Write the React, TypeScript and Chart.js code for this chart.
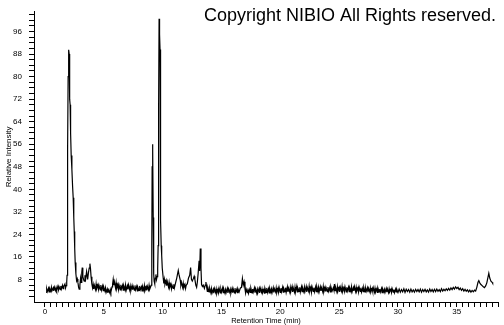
import React, { useEffect, useRef } from "react";
import { Chart, registerables } from "chart.js";

Chart.register(...registerables);

// Retention time (min), relative intensity (%)
const segmentEarly: [number, number][] = [
  [0.1, 3.4], [0.15, 4.6], [0.2, 3.7], [0.3, 4.9], [0.35, 3.6], [0.4, 4.8], [0.5, 3.8], [0.55, 5.2], [0.6, 4.0], [0.7, 5.0],
  [0.75, 3.9], [0.8, 5.3], [0.9, 4.1], [0.95, 5.1], [1.0, 4.2], [1.1, 5.6], [1.15, 4.3], [1.2, 5.4], [1.3, 4.4], [1.35, 5.7],
  [1.4, 4.6], [1.5, 5.9], [1.55, 4.7], [1.6, 5.5], [1.7, 6.4], [1.75, 5.0], [1.8, 5.8],
  [1.85, 7.0], [1.88, 9.5], [1.91, 22], [1.94, 54], [1.97, 80], [2.0, 86], [2.03, 89.5], [2.06, 88], [2.09, 84],
  [2.11, 72], [2.14, 70], [2.18, 60], [2.23, 52], [2.29, 47], [2.35, 41], [2.4, 37], [2.45, 30], [2.49, 25],
  [2.53, 19], [2.57, 14], [2.63, 10], [2.69, 7.5], [2.75, 8.2], [2.8, 7.0], [2.86, 5.2], [2.91, 4.6], [2.97, 6.0],
  [3.03, 8.5], [3.08, 7.0], [3.13, 10.5], [3.17, 12.2], [3.22, 9.0], [3.28, 8.0], [3.34, 7.4], [3.4, 9.5],
  [3.46, 8.2], [3.54, 10.8], [3.6, 9.0], [3.63, 8.0], [3.7, 10.5], [3.76, 12.0], [3.82, 13.6], [3.87, 11.9],
  [3.92, 9.0], [3.99, 6.3],
];

const segmentBaseline4to9: [number, number][] = [
  [4.05, 5.0], [4.1, 6.2], [4.15, 4.6], [4.2, 5.9], [4.3, 4.4], [4.35, 6.4], [4.4, 4.7], [4.5, 6.1], [4.55, 4.5], [4.6, 5.8],
  [4.7, 4.3], [4.75, 6.0], [4.8, 4.2], [4.9, 5.7], [4.95, 4.0], [5.0, 5.3], [5.1, 3.9], [5.15, 5.0], [5.2, 3.4], [5.3, 4.6],
  [5.35, 3.2], [5.4, 4.3], [5.5, 3.3], [5.55, 4.4], [5.6, 3.5], [5.7, 5.4], [5.75, 6.4], [5.8, 8.0], [5.85, 6.0], [5.9, 7.2],
  [6.0, 5.0], [6.05, 6.8], [6.1, 4.7], [6.2, 6.2], [6.25, 4.5], [6.3, 6.0], [6.4, 4.3], [6.45, 6.1], [6.5, 4.6], [6.6, 5.9],
  [6.65, 4.2], [6.7, 5.8], [6.8, 4.4], [6.85, 6.0], [6.9, 4.1], [7.0, 5.7], [7.05, 4.5], [7.1, 6.1], [7.2, 4.3], [7.25, 5.6],
  [7.3, 4.0], [7.4, 5.8], [7.45, 4.4], [7.5, 5.5], [7.6, 4.2], [7.65, 5.9], [7.7, 4.3], [7.8, 5.6], [7.85, 3.9], [7.9, 5.2],
  [8.0, 4.1], [8.05, 5.7], [8.1, 4.3], [8.2, 5.4], [8.25, 3.9], [8.3, 5.5], [8.4, 4.2], [8.45, 5.8], [8.5, 4.0], [8.6, 5.3],
  [8.65, 4.1], [8.7, 5.6], [8.8, 4.3], [8.85, 5.9], [8.9, 4.5], [9.0, 5.6],
];

const segmentPeaks9to14: [number, number][] = [
  [9.04, 6.0], [9.08, 20], [9.11, 48], [9.14, 56], [9.17, 54], [9.2, 30], [9.24, 10], [9.28, 7.4], [9.33, 6.5],
  [9.38, 8.5], [9.43, 9.8], [9.48, 8.0], [9.53, 9.0], [9.58, 12], [9.62, 20], [9.66, 70], [9.7, 100.5], [9.74, 95],
  [9.78, 89.6], [9.81, 60], [9.84, 29], [9.88, 20], [9.92, 16.6], [9.97, 12], [10.05, 8.5], [10.1, 6.6], [10.15, 8.0],
  [10.2, 6.2], [10.3, 7.6], [10.35, 5.8], [10.4, 7.2], [10.5, 5.3], [10.55, 6.9], [10.6, 5.1], [10.7, 6.4], [10.75, 4.7],
  [10.8, 5.9], [10.9, 4.8], [10.95, 6.3], [11.0, 5.0], [11.1, 6.8], [11.2, 8.5], [11.27, 10.0], [11.33, 11.2], [11.4, 9.5],
  [11.5, 7.8], [11.55, 6.0], [11.6, 7.0], [11.7, 5.2], [11.75, 6.6], [11.8, 5.0], [11.9, 6.2], [11.95, 4.8],
  [12.0, 5.9], [12.1, 6.5], [12.2, 8.5], [12.3, 9.5], [12.38, 12.2], [12.45, 8.0], [12.52, 7.4], [12.6, 8.2],
  [12.68, 9.1], [12.74, 8.0], [12.82, 6.0], [12.89, 5.2], [12.95, 7.0], [13.02, 10.2], [13.1, 14.6], [13.15, 11.0],
  [13.2, 19.0], [13.26, 12], [13.31, 6.2], [13.38, 5.5], [13.45, 6.0], [13.55, 4.8], [13.62, 6.0], [13.68, 7.1],
  [13.75, 5.0], [13.8, 3.8], [13.85, 5.1], [13.95, 3.6],
];

const segmentBaseline14to24: [number, number][] = [
  [14.0, 4.9], [14.1, 3.3], [14.15, 4.7], [14.2, 3.2], [14.3, 4.5], [14.35, 3.1], [14.4, 4.8], [14.5, 3.4], [14.55, 4.6], [14.6, 3.0],
  [14.7, 4.4], [14.75, 3.3], [14.8, 4.9], [14.9, 3.2], [14.95, 4.5], [15.0, 3.5], [15.1, 5.0], [15.15, 3.3], [15.2, 4.6], [15.3, 3.1],
  [15.35, 4.4], [15.4, 3.4], [15.5, 4.9], [15.55, 3.2], [15.6, 4.7], [15.7, 3.5], [15.75, 4.5], [15.8, 3.1], [15.9, 4.8], [15.95, 3.3],
  [16.0, 4.6], [16.1, 3.2], [16.15, 4.9], [16.2, 3.4], [16.3, 4.5], [16.35, 3.3], [16.4, 4.7], [16.5, 3.6], [16.6, 4.9], [16.7, 5.2],
  [16.78, 8.3], [16.85, 6.0], [16.92, 7.2], [17.0, 4.6], [17.05, 3.2],
  [17.1, 4.6], [17.2, 3.3], [17.25, 4.8], [17.3, 3.1], [17.4, 4.5], [17.45, 3.4], [17.5, 4.9], [17.6, 3.2], [17.65, 4.6], [17.7, 3.5],
  [17.8, 5.0], [17.85, 3.3], [17.9, 4.7], [18.0, 3.1], [18.05, 4.5], [18.1, 3.4], [18.2, 4.8], [18.25, 3.2], [18.3, 4.9], [18.4, 3.5],
  [18.45, 4.6], [18.5, 3.3], [18.6, 4.4], [18.65, 3.1], [18.7, 4.8], [18.8, 3.4], [18.85, 5.0], [18.9, 3.3], [19.0, 4.7], [19.05, 3.2],
  [19.1, 4.9], [19.2, 3.5], [19.25, 4.6], [19.3, 3.3], [19.4, 5.1], [19.45, 3.4], [19.5, 4.7], [19.6, 3.6], [19.65, 5.0], [19.7, 3.3],
  [19.8, 4.8], [19.85, 3.5], [19.9, 5.2], [20.0, 3.4], [20.05, 4.9], [20.1, 3.6], [20.2, 5.3], [20.25, 3.5], [20.3, 4.8], [20.4, 3.7],
  [20.45, 5.1], [20.5, 3.4], [20.6, 5.4], [20.65, 3.6], [20.7, 4.9], [20.8, 3.5], [20.85, 5.2], [20.9, 3.8], [21.0, 5.5], [21.05, 3.6],
  [21.1, 5.0], [21.2, 3.5], [21.25, 5.3], [21.3, 3.7], [21.4, 5.6], [21.45, 3.6], [21.5, 4.9], [21.6, 3.8], [21.65, 5.2], [21.7, 3.5],
  [21.8, 5.4], [21.85, 3.7], [21.9, 5.0], [22.0, 3.6], [22.05, 5.3], [22.1, 3.8], [22.2, 5.5], [22.25, 3.6], [22.3, 5.1], [22.4, 3.9],
  [22.45, 5.6], [22.5, 3.7], [22.6, 5.2], [22.65, 3.5], [22.7, 5.4], [22.8, 3.8], [22.85, 5.1], [22.9, 3.6], [23.0, 5.3], [23.05, 3.7],
  [23.1, 5.5], [23.2, 3.8], [23.25, 5.2], [23.3, 3.6], [23.4, 5.4], [23.45, 3.9], [23.5, 5.1], [23.6, 3.7], [23.65, 5.5], [23.7, 3.6],
  [23.8, 5.2], [23.85, 3.8], [23.9, 5.0], [24.0, 3.7],
];

const segmentBaseline24to38: [number, number][] = [
  [24.05, 5.3], [24.1, 3.8], [24.2, 5.1], [24.25, 3.6], [24.3, 5.4], [24.4, 3.9], [24.5, 5.0], [24.55, 4.2], [24.6, 6.4], [24.65, 4.0],
  [24.7, 5.2], [24.8, 3.7], [24.85, 5.4], [24.9, 3.8], [25.0, 5.1], [25.05, 3.6], [25.1, 5.3], [25.2, 3.9], [25.25, 5.5], [25.3, 3.7],
  [25.4, 5.0], [25.45, 3.8], [25.5, 5.4], [25.6, 3.6], [25.65, 5.2], [25.7, 3.9], [25.8, 5.3], [25.85, 3.7], [25.9, 5.0], [26.0, 3.8],
  [26.05, 5.4], [26.1, 3.6], [26.2, 5.1], [26.25, 3.9], [26.3, 5.5], [26.4, 3.7], [26.45, 5.2], [26.5, 3.8], [26.6, 5.0], [26.65, 3.6],
  [26.7, 5.3], [26.8, 3.8], [26.85, 5.1], [26.9, 3.5], [27.0, 4.9], [27.05, 3.7], [27.1, 5.2], [27.2, 3.6], [27.25, 4.8], [27.3, 3.8],
  [27.4, 5.1], [27.45, 3.5], [27.5, 4.9], [27.6, 3.7], [27.65, 5.0], [27.7, 3.6], [27.8, 4.8], [27.85, 3.8], [27.9, 5.1], [28.0, 3.5],
  [28.05, 4.9], [28.1, 3.6], [28.2, 4.7], [28.25, 3.4], [28.3, 4.9], [28.4, 3.6], [28.45, 4.6], [28.5, 3.5], [28.6, 4.8], [28.65, 3.3],
  [28.7, 4.7], [28.8, 3.6], [28.85, 4.5], [28.9, 3.4], [29.0, 4.8], [29.05, 3.5], [29.1, 4.6], [29.2, 3.3], [29.25, 4.7], [29.3, 3.6],
  [29.4, 4.5], [29.45, 3.4], [29.5, 4.8], [29.6, 3.5], [29.65, 4.4], [29.7, 3.3], [29.8, 4.6], [29.85, 3.6], [29.9, 4.5], [30.0, 3.4],
  [30.1, 4.6], [30.2, 3.5], [30.3, 4.4], [30.4, 3.6], [30.5, 4.7], [30.6, 3.4], [30.7, 4.5], [30.8, 3.7], [30.9, 4.4], [31.0, 3.5],
  [31.1, 4.6], [31.2, 3.6], [31.3, 4.3], [31.4, 3.5], [31.5, 4.5], [31.6, 3.7], [31.7, 4.4], [31.8, 3.6], [31.9, 4.6], [32.0, 3.5],
  [32.1, 4.4], [32.2, 3.7], [32.3, 4.5], [32.4, 3.6], [32.5, 4.3], [32.6, 3.5], [32.7, 4.6], [32.8, 3.7], [32.9, 4.4], [33.0, 3.6],
  [33.1, 4.5], [33.2, 3.7], [33.3, 4.6], [33.4, 3.8], [33.5, 4.4], [33.6, 3.7], [33.7, 4.7], [33.8, 3.9], [33.9, 4.5], [34.0, 4.0],
  [34.1, 4.7], [34.2, 4.1], [34.3, 4.8], [34.4, 4.2], [34.5, 5.0], [34.6, 4.4], [34.7, 5.2], [34.8, 4.6], [34.9, 5.4], [35.0, 4.8],
  [35.1, 5.2], [35.2, 4.4], [35.3, 4.9], [35.4, 4.1], [35.5, 4.7], [35.6, 3.9], [35.7, 4.5], [35.8, 3.8], [35.9, 4.3], [36.0, 3.6],
  [36.1, 4.2], [36.2, 3.5], [36.3, 4.1], [36.4, 3.6], [36.5, 4.2], [36.6, 3.9], [36.7, 5.2], [36.8, 7.0], [36.87, 7.6],
  [36.95, 6.8], [37.05, 6.2], [37.15, 5.8], [37.25, 5.4], [37.35, 5.1], [37.45, 5.7], [37.55, 6.8], [37.65, 8.8],
  [37.72, 10.2], [37.8, 8.5], [37.9, 7.4], [38.0, 7.0], [38.05, 6.6],
];

const xMajorTicks = [0, 5, 10, 15, 20, 25, 30, 35];
const yMajorTicks = [8, 16, 24, 32, 40, 48, 56, 64, 72, 80, 88, 96];
const xMinorStep = 0.5;
const yMinorStep = 2;
const xRange = [-0.93, 38.5];
const yRange = [0, 103];

const xTitle = "Retention Time (min)";
const yTitle = "Relative Intensity";
const copyrightText = "Copyright NIBIO All Rights reserved.";

const FONT = '"Liberation Sans", Arial, sans-serif';

function stepsWithin(from: number, to: number, step: number): number[] {
  const out: number[] = [];
  for (let i = Math.ceil(from / step); i * step <= to + 1e-9; i++) out.push(i * step);
  return out;
}

const copyrightPlugin = {
  id: "copyright",
  afterDraw(chart: any) {
    const ctx = chart.ctx;
    ctx.save();
    ctx.font = `18px ${FONT}`;
    ctx.fillStyle = "#000";
    ctx.textAlign = "right";
    ctx.textBaseline = "alphabetic";
    ctx.fillText(copyrightText, 496, 21);
    ctx.restore();
  },
};

export default function App() {
  const canvasRef = useRef<HTMLCanvasElement | null>(null);

  useEffect(() => {
    if (!canvasRef.current) return;
    const points = [
      ...segmentEarly,
      ...segmentBaseline4to9,
      ...segmentPeaks9to14,
      ...segmentBaseline14to24,
      ...segmentBaseline24to38,
    ].map(([x, y]) => ({ x, y }));

    const xTickValues = stepsWithin(0, xRange[1], xMinorStep);
    const yTickValues = stepsWithin(yMinorStep, yRange[1], yMinorStep);

    const chart = new Chart(canvasRef.current, {
      type: "line",
      data: {
        datasets: [
          {
            data: points,
            borderColor: "#000",
            borderWidth: 1.2,
            pointRadius: 0,
            tension: 0,
            fill: false,
          },
        ],
      },
      options: {
        animation: false,
        responsive: false,
        devicePixelRatio: 1,
        layout: { padding: { left: 0, right: 6, top: 0, bottom: 0 } },
        plugins: { legend: { display: false }, tooltip: { enabled: false } },
        scales: {
          x: {
            type: "linear",
            min: xRange[0],
            max: xRange[1],
            afterBuildTicks: (scale: any) => {
              scale.ticks = xTickValues.map((v) => ({ value: v }));
            },
            afterFit: (scale: any) => {
              scale.height = 23;
            },
            grid: {
              display: true,
              drawOnChartArea: false,
              tickLength: 5,
              tickColor: "#000",
              tickWidth: 1,
            },
            border: { display: true, color: "#000", width: 1 },
            ticks: {
              autoSkip: false,
              maxRotation: 0,
              padding: 0,
              color: "#000",
              font: { family: FONT, size: 8 },
              callback: (value: any) => (xMajorTicks.includes(Number(value)) ? String(value) : ""),
            },
            title: {
              display: true,
              text: xTitle,
              color: "#000",
              font: { family: FONT, size: 7.5 },
              padding: { top: 0, bottom: 0 },
            },
          },
          y: {
            type: "linear",
            min: yRange[0],
            max: yRange[1],
            afterBuildTicks: (scale: any) => {
              scale.ticks = yTickValues.map((v) => ({ value: v }));
            },
            afterFit: (scale: any) => {
              scale.width = 34;
            },
            grid: {
              display: true,
              drawOnChartArea: false,
              tickLength: 5,
              tickColor: "#000",
              tickWidth: 1,
            },
            border: { display: true, color: "#000", width: 1 },
            ticks: {
              autoSkip: false,
              padding: 7,
              color: "#000",
              font: { family: FONT, size: 8 },
              callback: (value: any) => (yMajorTicks.includes(Number(value)) ? String(value) : ""),
            },
            title: {
              display: true,
              text: yTitle,
              color: "#000",
              font: { family: FONT, size: 8 },
              padding: { top: 3.5, bottom: 0 },
            },
          },
        },
      },
      plugins: [copyrightPlugin],
    });
    return () => chart.destroy();
  }, []);

  return (
    <div style={{ position: "fixed", left: 0, top: 0, width: 504, height: 325, background: "#fff" }}>
      <canvas ref={canvasRef} width={504} height={325} style={{ display: "block" }} />
    </div>
  );
}
